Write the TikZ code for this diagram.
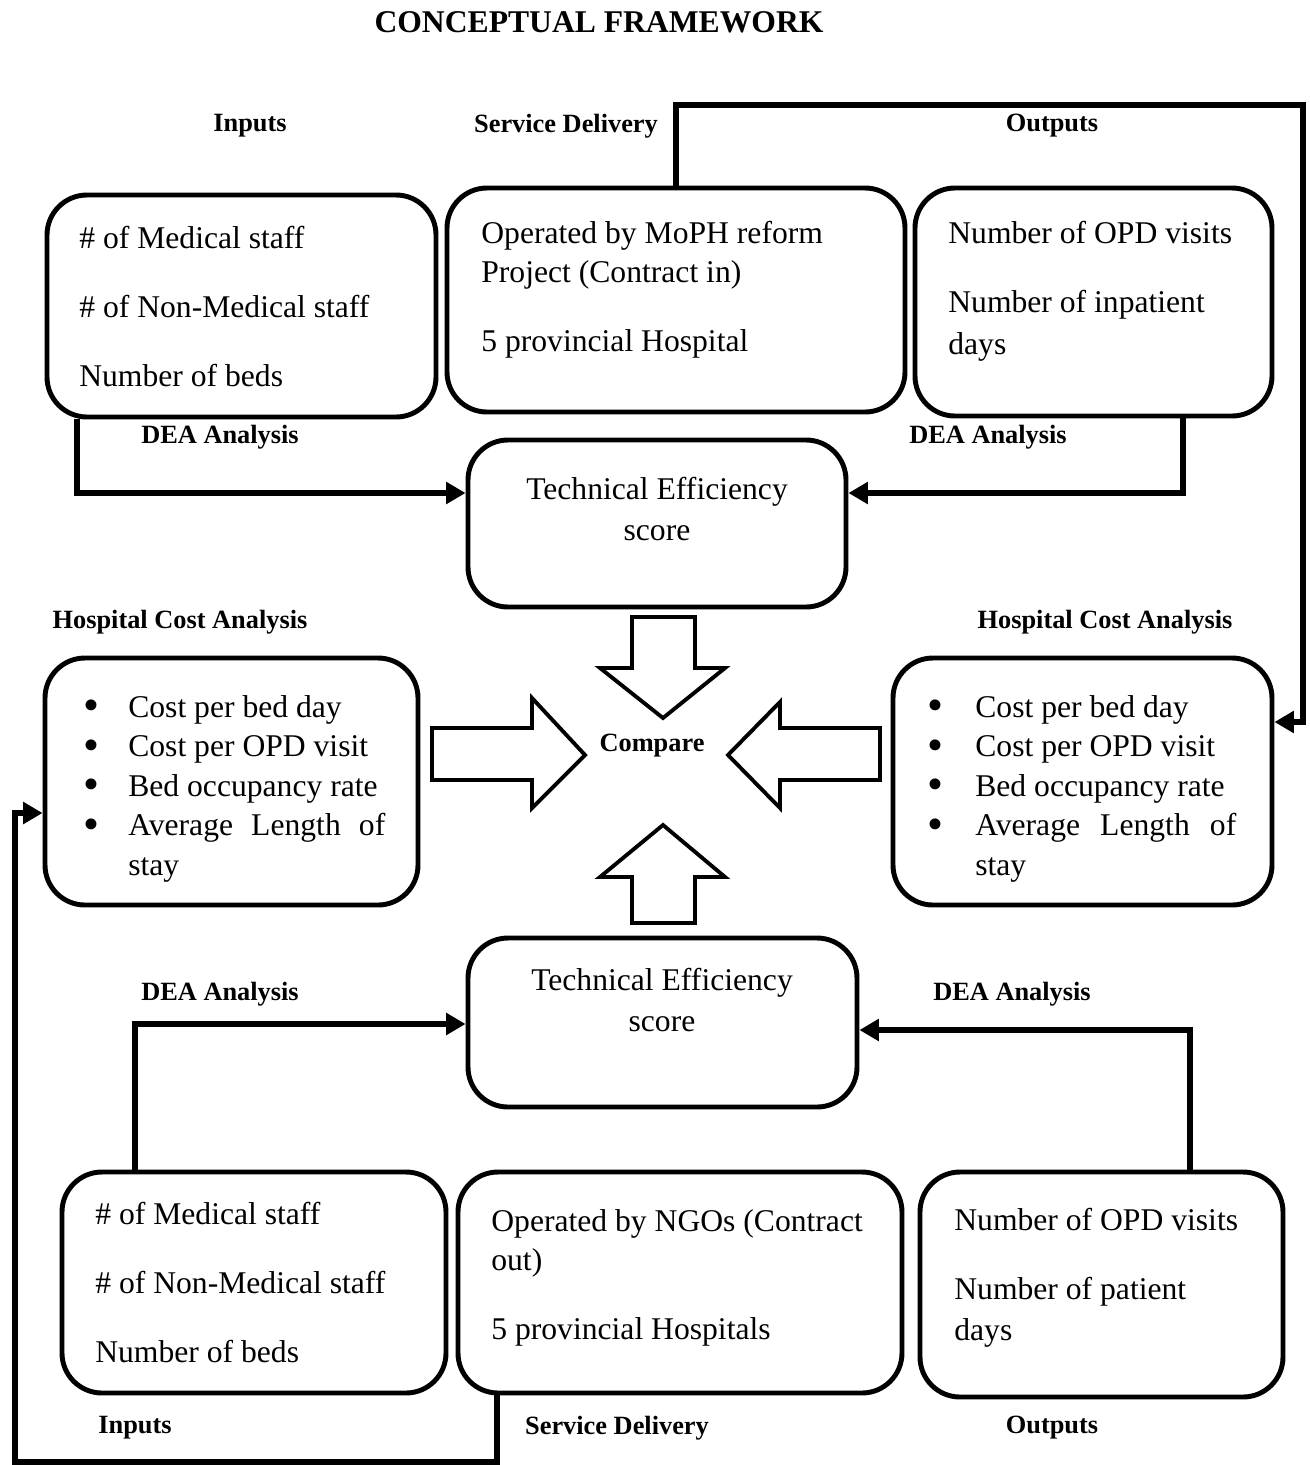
\documentclass[tikz,border=0pt]{standalone}
\usepackage{fontspec}
\setmainfont{Liberation Serif}
\usepackage{tikz}
\usetikzlibrary{arrows.meta}
\usetikzlibrary{fit}
\tolerance=9999
\hbadness=10000
\newcommand{\bigdot}{\raisebox{-0.12em}{\fontsize{26}{26}\selectfont\textbullet}}
\tikzset{
  round_box/.style = {draw=black, line width=2.8pt, rounded corners=0.8cm,
    inner sep=0pt},% cadre arrondi
  box_text/.style = {inner sep=0pt, anchor=north west,
    font=\fontsize{18}{22.5}\selectfont},% texte des cadres
  head_label/.style = {inner sep=0pt, font=\fontsize{15}{18}\selectfont\bfseries},
  title_label/.style = {inner sep=0pt, font=\fontsize{18}{22}\selectfont\bfseries},
  flow_line/.style = {line width=3.4pt, -{Triangle[length=11pt, width=12pt]}},
  block_arrow/.style = {draw=black, fill=white, line width=2.2pt,
    line join=miter}% grosse fleche
}

\begin{document}
\begin{tikzpicture}[x=0.02cm, y=-0.02cm]
  \useasboundingbox (0,0) rectangle (1310,1465);
  \node [title_label] (title) at (599,22) {CONCEPTUAL FRAMEWORK};

  % contract in
  \node [head_label] (inputs1) at (250,126) {Inputs};
  \node [head_label] (service1) at (566,126) {Service Delivery};
  \node [head_label] (outputs1) at (1052,126) {Outputs};
  \node [round_box, fit={(47,195) (436,417)}] (in1) {};
  \node [round_box, fit={(447,188) (905,412)}] (sd1) {};
  \node [round_box, fit={(915,188) (1272,416)}] (out1) {};
  \node [box_text] (in1t) at (79,220) {\begin{tabular}{@{}l@{}}
      \# of Medical staff\\[0.59cm] \# of Non-Medical staff\\[0.59cm] Number of beds
    \end{tabular}};
  \node [box_text] (sd1t) at (481,215) {\begin{tabular}{@{}l@{}}
      Operated by MoPH reform\\ Project (Contract in)\\[0.59cm] 5 provincial Hospital
    \end{tabular}};
  \node [box_text] (out1t) at (948,215) {\begin{tabular}{@{}l@{}}
      Number of OPD visits\\[0.59cm] Number of inpatient\\[0.06cm] days
    \end{tabular}};
  \node [head_label] (dea1) at (220,437) {DEA Analysis};
  \node [head_label] (dea2) at (988,437) {DEA Analysis};
  \node [round_box, fit={(468,440) (846,607)}] (te1) {};
  \node [box_text, anchor=north] (te1t) at (657,471) {\begin{tabular}{@{}c@{}}
      Technical Efficiency\\[0.04cm] score
    \end{tabular}};

  % cost analysis
  \node [head_label] (hca1l) at (180,622) {Hospital Cost Analysis};
  \node [head_label] (hca2l) at (1105,622) {Hospital Cost Analysis};
  \node [round_box, fit={(45,658) (418,905)}] (hca1) {};
  \node [round_box, fit={(893,658) (1272,905)}] (hca2) {};
  \node [box_text] (hca1t) at (83,689) {\begin{tabular}{@{}l@{\hspace{0.58cm}}p{5.14cm}@{}}
      \bigdot & Cost per bed day\\
      \bigdot & Cost per OPD visit\\
      \bigdot & Bed occupancy rate\\
      \bigdot & Average Length of stay
    \end{tabular}};
  \node [box_text] (hca2t) at (927,689) {\begin{tabular}{@{}l@{\hspace{0.64cm}}p{5.22cm}@{}}
      \bigdot & Cost per bed day\\
      \bigdot & Cost per OPD visit\\
      \bigdot & Bed occupancy rate\\
      \bigdot & Average Length of stay
    \end{tabular}};
  \node [head_label] (compare) at (652,746) {Compare};
  \draw [block_arrow] (632,617) -- (695,617) -- (695,668) -- (725,668)
    -- (663,718) -- (600,668) -- (632,668) -- cycle;
  \draw [block_arrow] (632,923) -- (695,923) -- (695,877) -- (725,877)
    -- (663,825) -- (600,877) -- (632,877) -- cycle;
  \draw [block_arrow] (432,728) -- (532,728) -- (532,698) -- (585,755)
    -- (532,808) -- (532,780) -- (432,780) -- cycle;
  \draw [block_arrow] (880,728) -- (780,728) -- (780,702) -- (728,755)
    -- (780,808) -- (780,780) -- (880,780) -- cycle;

  % contract out
  \node [round_box, fit={(468,938) (857,1107)}] (te2) {};
  \node [box_text, anchor=north] (te2t) at (662,962) {\begin{tabular}{@{}c@{}}
      Technical Efficiency\\[0.04cm] score
    \end{tabular}};
  \node [head_label] (dea3) at (220,994) {DEA Analysis};
  \node [head_label] (dea4) at (1012,994) {DEA Analysis};
  \node [round_box, fit={(62,1172) (446,1393)}] (in2) {};
  \node [round_box, fit={(458,1172) (902,1393)}] (sd2) {};
  \node [round_box, fit={(920,1172) (1283,1397)}] (out2) {};
  \node [box_text] (in2t) at (95,1196) {\begin{tabular}{@{}l@{}}
      \# of Medical staff\\[0.59cm] \# of Non-Medical staff\\[0.59cm] Number of beds
    \end{tabular}};
  \node [box_text] (sd2t) at (491,1203) {\begin{tabular}{@{}l@{}}
      Operated by NGOs (Contract\\ out)\\[0.59cm] 5 provincial Hospitals
    \end{tabular}};
  \node [box_text] (out2t) at (954,1202) {\begin{tabular}{@{}l@{}}
      Number of OPD visits\\[0.59cm] Number of patient\\[0.04cm] days
    \end{tabular}};
  \node [head_label] (inputs2) at (135,1428) {Inputs};
  \node [head_label] (service2) at (617,1428) {Service Delivery};
  \node [head_label] (outputs2) at (1052,1428) {Outputs};

  % connecteurs
  \coordinate (c_in1) at (77,493);
  \coordinate (c_out1) at (1183,493);
  \coordinate (c_top1) at (1303,105);
  \coordinate (c_top2) at (1303,722);
  \coordinate (c_bot1) at (497,1462);
  \coordinate (c_bot2) at (15,1462);
  \coordinate (c_bot3) at (15,813);
  \coordinate (c_in2) at (135,1024);
  \coordinate (c_out2) at (1190,1030);
  \draw [flow_line] (in1.south -| c_in1) |- (te1.west |- c_in1);
  \draw [flow_line] (out1.south -| c_out1) |- (te1.east |- c_out1);
  \draw [flow_line] (sd1.north) |- (c_top1) -- (c_top2) -- (hca2.east |- c_top2);
  \draw [flow_line] (sd2.south -| c_bot1) -- (c_bot1) -- (c_bot2) -- (c_bot3)
    -- (hca1.west |- c_bot3);
  \draw [flow_line] (in2.north -| c_in2) |- (te2.west |- c_in2);
  \draw [flow_line] (out2.north -| c_out2) |- (te2.east |- c_out2);
\end{tikzpicture}
\end{document}
